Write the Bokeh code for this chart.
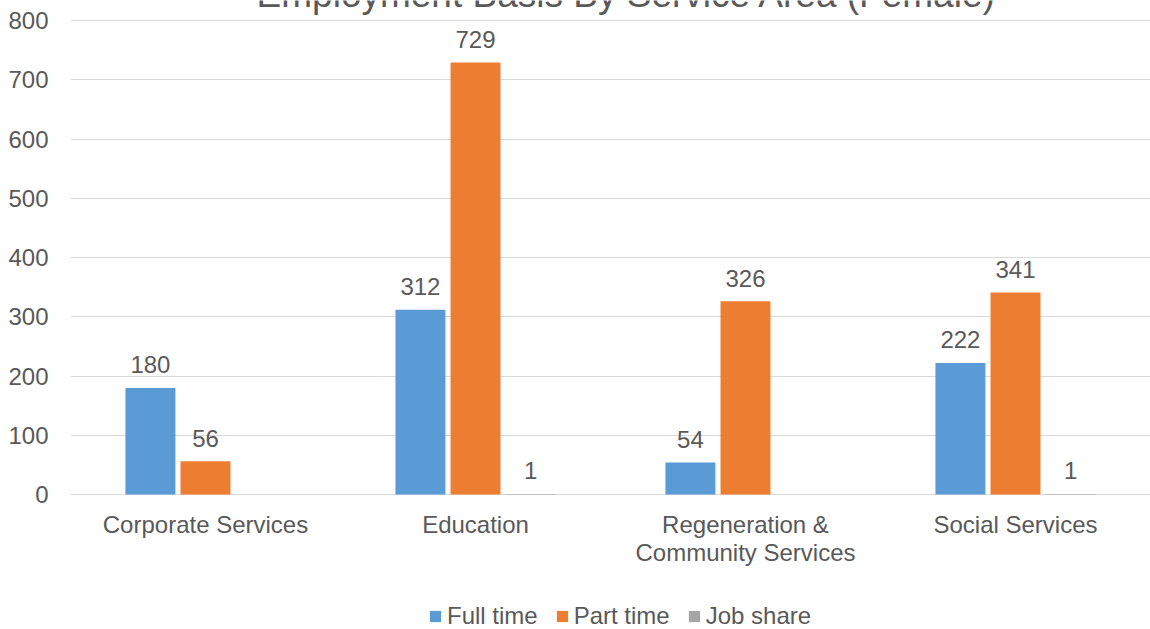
from bokeh.plotting import figure
from bokeh.models import ColumnDataSource, Range1d, FixedTicker, Legend, LegendItem, Label
from bokeh.transform import dodge
from bokeh.core.properties import value
from bokeh.embed import file_html
from bokeh.resources import INLINE

categories = ["Corporate Services", "Education", "Regeneration &\nCommunity Services", "Social Services"]
full_time = [180, 312, 54, 222]
part_time = [56, 729, 326, 341]
job_share = [None, 1, None, 1]
y_ticks = [0, 100, 200, 300, 400, 500, 600, 700, 800]
series_names = ["Full time", "Part time", "Job share"]
colors = ["#5B9BD5", "#ED7D31", "#A5A5A5"]

FONT = "Liberation Sans"
TXT = "#595959"

xpos = list(range(len(categories)))
nan = float("nan")
src = ColumnDataSource(dict(
    x=xpos,
    zero=[0] * len(xpos),
    cat=categories,
    ft=full_time,
    pt=part_time,
    js=[nan if v is None else v for v in job_share],
    ft_lbl=[str(v) for v in full_time],
    pt_lbl=[str(v) for v in part_time],
    js_lbl=["" if v is None else str(v) for v in job_share],
))

# the frame covers the whole page height so that the (cropped) title, the
# category labels and the legend are all drawn inside it
p = figure(width=1150, height=629, output_backend="svg", toolbar_location=None,
           x_range=Range1d(-0.5, 3.5), y_range=Range1d(-227.8, 833.8),
           min_border_left=70, min_border_right=0, min_border_top=0, min_border_bottom=0)
p.outline_line_color = None
p.background_fill_color = "white"
p.border_fill_color = "white"

w = 0.185
off = 0.204
cols = ["ft", "pt", "js"]
offsets = [-off, 0, off]
rends = []
for c, o, col in zip(cols, offsets, colors):
    r = p.vbar(x=dodge("x", o), top=c, bottom=0, width=w, source=src, fill_color=col, line_color=None)
    rends.append(r)
    p.text(x=dodge("x", o), y=c, text=c + "_lbl", source=src, text_align="center",
           text_baseline="alphabetic", y_offset=-23, text_font=value(FONT),
           text_font_size="24px", text_color=TXT)

# category labels under the baseline
p.text(x="x", y="zero", text="cat", source=src, text_align="center", text_baseline="top",
       y_offset=16, text_font=value(FONT), text_font_size="24px", text_color=TXT,
       text_line_height=1.05)

# axes
p.xaxis.visible = False
p.yaxis.ticker = FixedTicker(ticks=y_ticks)
ax = p.yaxis[0]
ax.axis_line_color = None
ax.major_tick_line_color = None
ax.minor_tick_line_color = None
ax.major_tick_out = 0
ax.major_tick_in = 0
ax.minor_tick_out = 0
ax.major_label_text_font = FONT
ax.major_label_text_font_size = "24px"
ax.major_label_text_color = TXT
ax.major_label_standoff = 22
p.xgrid.grid_line_color = None
p.ygrid.ticker = FixedTicker(ticks=y_ticks)
p.ygrid.grid_line_color = "#D9D9D9"
p.ygrid.grid_line_width = 1

# title (cropped at the top edge in the reference)
p.add_layout(Label(x=1.56, y=800, y_offset=26, text="Employment Basis By Service Area (Female)",
                   text_align="center", text_baseline="alphabetic", text_font=FONT,
                   text_font_size="37px", text_color=TXT))

legend = Legend(items=[LegendItem(label=n, renderers=[r]) for n, r in zip(series_names, rends)],
                orientation="horizontal", location=(358, -1),
                label_text_font=FONT, label_text_font_size="24px", label_text_color=TXT,
                glyph_width=14, glyph_height=14, label_standoff=5, spacing=17,
                label_height=24, padding=0, margin=0, border_line_color=None,
                background_fill_alpha=0)
p.add_layout(legend, "center")

open("out.html", "w").write(file_html(p, INLINE))
